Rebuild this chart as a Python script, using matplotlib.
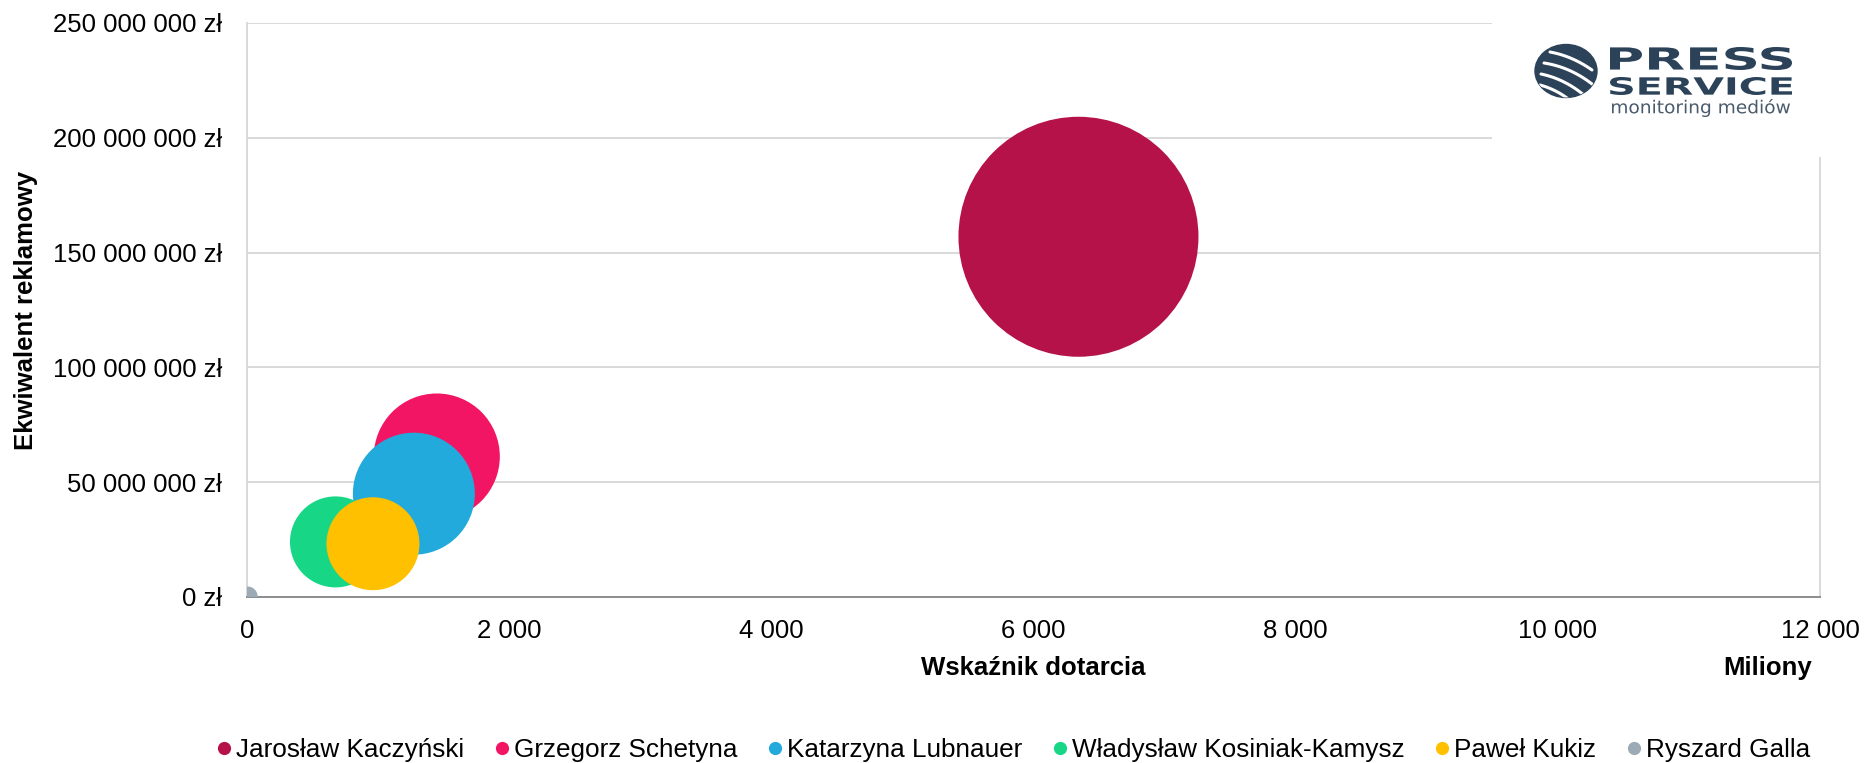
import matplotlib
matplotlib.use('Agg')
import matplotlib.pyplot as plt
from matplotlib.lines import Line2D
from matplotlib.patches import Ellipse, Rectangle, PathPatch
from matplotlib.textpath import TextPath
from matplotlib.font_manager import FontProperties
from matplotlib.transforms import Affine2D
from matplotlib.ticker import FixedLocator, FuncFormatter
import numpy as np

plt.rcParams['font.family'] = ['Liberation Sans', 'DejaVu Sans']

# data
politicians = ['Jarosław Kaczyński', 'Grzegorz Schetyna', 'Katarzyna Lubnauer',
               'Władysław Kosiniak-Kamysz', 'Paweł Kukiz', 'Ryszard Galla']
reach_mln = [6343, 1448, 1273, 675, 961, 5]           # Wskaźnik dotarcia (miliony)
ad_value = [156.9e6, 61.2e6, 45.0e6, 24.0e6, 23.2e6, 0.2e6]  # Ekwiwalent reklamowy (zł)
bubble = [14400, 3970, 3720, 2070, 2160, 100]          # bubble size (relative)
colors = ['#B51249', '#F21563', '#22AADC', '#17D787', '#FFC000', '#9BAAB4']

x_ticks = [0, 2000, 4000, 6000, 8000, 10000, 12000]
y_ticks = [0, 50e6, 100e6, 150e6, 200e6, 250e6]

W, H, DPI = 1865, 763, 100
fig = plt.figure(figsize=(W / DPI, H / DPI), dpi=DPI)
fig.patch.set_facecolor('white')

# plot area in pixels
L, R, T, B = 247, 1820, 23, 597
ax = fig.add_axes([L / W, 1 - B / H, (R - L) / W, (B - T) / H])

max_s = (2 * 120 * 72 / DPI) ** 2
sizes = [max_s * b / max(bubble) for b in bubble]
for x, y, s, c in zip(reach_mln, ad_value, sizes, colors):
    ax.scatter([x], [y], s=s, color=c, edgecolors='none', zorder=3)

ax.set_xlim(0, 12000)
ax.set_ylim(0, 250e6)
ax.xaxis.set_major_locator(FixedLocator(x_ticks))
ax.yaxis.set_major_locator(FixedLocator(y_ticks))


def spaced(v):
    return f'{int(round(v)):,}'.replace(',', ' ')


ax.xaxis.set_major_formatter(FuncFormatter(lambda v, p: spaced(v)))
ax.yaxis.set_major_formatter(FuncFormatter(lambda v, p: spaced(v) + ' zł'))
ax.tick_params(axis='both', length=0, labelsize=18.5, colors='black')
ax.tick_params(axis='y', pad=18)
ax.tick_params(axis='x', pad=16)

ax.grid(axis='y', color='#D9D9D9', lw=1.4, zorder=0)
ax.set_axisbelow(True)
for side in ['left', 'right']:
    ax.spines[side].set_color('#D9D9D9')
    ax.spines[side].set_linewidth(1.4)
ax.spines['top'].set_visible(False)
ax.spines['bottom'].set_color('#8C8C8C')
ax.spines['bottom'].set_linewidth(1.4)

ax.text((26 - L) / (R - L), 0.5, 'Ekwiwalent reklamowy', transform=ax.transAxes,
        rotation=90, ha='center', va='center', fontsize=18.5, fontweight='bold')
ax.text(0.5, (B - 668) / (B - T), 'Wskaźnik dotarcia', transform=ax.transAxes,
        ha='center', va='center', fontsize=18.5, fontweight='bold')
ax.text((1812 - L) / (R - L), (B - 668) / (B - T), 'Miliony', transform=ax.transAxes,
        ha='right', va='center', fontsize=18.5, fontweight='bold')

handles = [Line2D([], [], marker='o', ls='', markersize=9.5, color=c,
                  markeredgewidth=0) for c in colors]
fig.legend(handles, politicians, loc='center', ncol=6, frameon=False,
           bbox_to_anchor=(1014 / W, 1 - 750 / H), fontsize=18.8,
           handlelength=0.5, handletextpad=0.2, columnspacing=1.2)

# logo box (covers the grid in the top right corner)
lx0, ly1 = 1492, 157
lax = fig.add_axes([lx0 / W, 1 - ly1 / H, (W - lx0) / W, ly1 / H], zorder=10)
lax.set_xlim(0, W - lx0)
lax.set_ylim(0, ly1)
lax.axis('off')
lax.add_patch(Rectangle((0, 0), W - lx0, ly1, color='white', zorder=0))

navy = '#2B4259'
ell = Ellipse((1566 - lx0, ly1 - 71), 62, 53, color=navy, zorder=1)
lax.add_patch(ell)
stripes = [((1550, 52), (1572, 56), (1592, 70)),
           ((1544, 63), (1570, 67), (1592, 84)),
           ((1541, 74), (1565, 79), (1585, 96)),
           ((1540, 85), (1558, 90), (1572, 102))]
for p0, p1, p2 in stripes:
    t = np.linspace(0, 1, 30)[:, None]
    pts = (1 - t) ** 2 * np.array(p0) + 2 * t * (1 - t) * np.array(p1) + t ** 2 * np.array(p2)
    ln, = lax.plot(pts[:, 0] - lx0, ly1 - pts[:, 1], color='white', lw=2.2, zorder=2,
                   solid_capstyle='round')
    ln.set_clip_path(ell)


def fit_text(s, x0, x1, y0, y1, color, weight):
    tp = TextPath((0, 0), s, size=10, prop=FontProperties(family='DejaVu Sans', weight=weight))
    bb = tp.get_extents()
    tr = Affine2D().translate(-bb.x0, -bb.y0).scale((x1 - x0) / bb.width,
                                                     (y1 - y0) / bb.height).translate(x0, y0)
    lax.add_patch(PathPatch(tr.transform_path(tp), color=color, lw=0, zorder=3))


fit_text('PRESS', 1610 - lx0, 1792 - lx0, ly1 - 70, ly1 - 47, navy, 'bold')
fit_text('SERVICE', 1610 - lx0, 1792 - lx0, ly1 - 95, ly1 - 77, navy, 'bold')
fit_text('monitoring mediów', 1612 - lx0, 1790 - lx0, ly1 - 117, ly1 - 99, '#4A5B6C', 'normal')

fig.savefig('out.png', dpi=DPI, facecolor='white')
